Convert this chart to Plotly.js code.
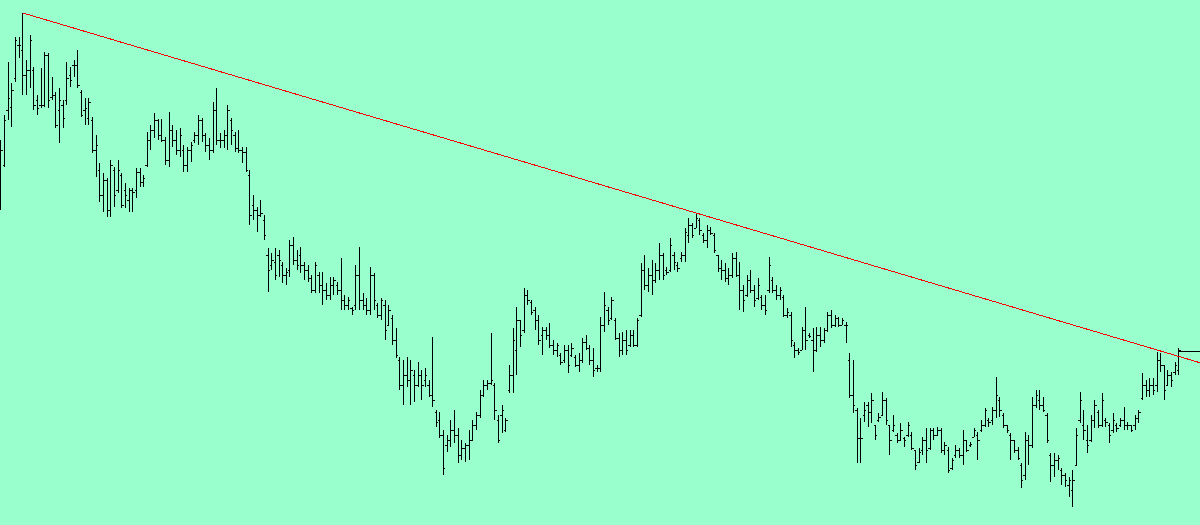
<!DOCTYPE html>
<html>
<head>
<meta charset="utf-8">
<script src="https://cdn.plot.ly/plotly-3.0.1.min.js"></script>
<style>html,body{margin:0;padding:0;background:#99ffcc;}#chart{width:1200px;height:525px;}#chart path{shape-rendering:crispEdges;}</style>
</head>
<body>
<div id="chart"></div>
<script>
// Price levels (arbitrary units, higher = up)
const highs = [385,410,463,442,488,488,512,465,490,458,
430,457,473,472,448,433,437,425,463,458,
465,475,435,427,427,408,390,362,352,347,
365,358,365,352,342,337,337,357,357,350,
393,400,412,406,406,388,413,400,395,397,
380,378,383,393,410,407,392,387,423,437,
392,395,420,407,393,395,378,378,355,330,
318,325,310,277,272,277,275,263,257,285,
288,275,278,263,260,250,263,253,253,242,
248,248,243,267,230,228,218,260,278,232,
227,258,252,222,227,225,220,210,197,168,
165,168,165,155,163,155,157,145,188,115,
113,95,90,105,115,97,85,82,95,105,
113,135,145,145,192,142,110,120,107,160,
197,218,205,237,235,225,218,210,198,198,
202,185,182,172,180,180,182,170,172,187,
190,180,177,160,208,233,218,228,207,192,
193,195,195,195,207,262,270,257,265,262,
282,272,258,287,273,263,273,297,307,302,
312,307,292,300,298,292,270,265,262,257,
272,273,263,240,250,255,240,247,230,230,
268,248,240,238,230,217,213,183,177,198,
218,192,197,198,198,197,213,215,210,208,
207,203,172,165,117,107,123,123,132,100,
112,133,127,100,110,92,102,88,103,93,
75,77,88,97,97,97,98,97,83,78,
67,80,77,95,85,83,97,93,105,117,
107,118,148,128,112,100,92,85,78,62,
93,90,128,135,135,128,112,72,72,70,
57,52,48,55,97,133,115,100,110,125,
115,132,107,102,112,102,107,118,103,100,
110,115,152,145,147,147,173,172,160,155,
153,163,177];
const lows = [315,358,405,398,443,467,430,430,437,415,
410,417,418,417,425,397,382,397,420,438,
448,437,408,400,400,372,348,323,313,308,
308,318,332,317,317,313,313,327,338,338,
358,375,387,385,383,360,358,378,370,368,
353,353,363,382,380,383,373,365,372,380,
377,377,375,380,373,372,362,353,300,305,
293,308,285,233,255,245,248,242,240,248,
260,255,252,245,243,232,232,232,220,225,
225,230,230,215,215,215,210,215,215,215,
210,210,215,207,205,185,200,180,167,135,
120,138,120,123,138,125,138,128,118,98,
87,50,73,78,82,62,65,63,65,85,
95,107,128,135,140,105,82,92,93,132,
132,150,178,192,220,210,195,180,170,185,
177,170,168,160,162,152,168,158,153,162,
175,160,148,153,153,193,200,205,185,168,
170,170,178,178,178,208,235,233,230,242,
245,245,250,253,255,253,263,263,282,287,
297,290,282,277,290,272,253,245,243,240,
247,248,215,213,228,232,218,225,215,210,
232,232,225,225,208,207,178,167,170,175,
175,187,153,173,178,182,193,197,198,198,
200,182,127,112,62,62,103,98,102,85,
103,110,100,70,93,82,85,78,88,75,
55,62,70,62,75,85,90,72,70,52,
55,67,67,60,73,78,88,65,93,98,
98,100,107,108,97,92,65,72,65,37,
45,60,77,117,115,113,82,43,48,55,
40,38,28,18,60,102,85,72,83,97,
97,98,98,82,92,93,98,95,95,93,
95,102,125,128,128,130,133,153,125,140,
138,150,150];
const opens = [330,360,415,418,447,480,475,450,455,455,
425,420,420,470,428,430,415,420,425,450,
460,460,433,415,407,405,375,355,330,345,
315,355,335,350,335,325,335,335,353,343,
360,385,395,405,390,385,365,395,385,375,
375,360,375,385,390,405,390,380,375,415,
385,385,390,405,390,377,375,373,350,320,
315,310,305,270,260,263,270,260,250,255,
280,265,270,260,255,247,235,250,240,235,
230,240,240,235,225,220,217,220,250,225,
220,215,250,220,210,220,200,207,185,165,
140,150,145,150,140,150,145,140,130,113,
105,90,80,85,95,90,70,77,80,85,
100,110,130,140,142,140,105,110,95,135,
150,175,205,195,230,223,215,205,190,195,
190,180,175,170,165,175,170,168,160,165,
183,177,165,157,157,200,215,207,205,187,
175,185,180,190,180,210,255,240,250,245,
255,270,255,255,270,260,267,270,290,300,
297,305,290,285,295,290,270,257,255,247,
250,267,250,235,230,245,235,227,228,220,
235,245,235,230,228,210,210,180,175,175,
195,190,185,175,190,185,195,210,200,207,
200,200,165,130,115,87,110,120,113,100,
105,110,125,100,95,90,85,87,90,90,
75,63,75,85,77,95,90,95,75,75,
57,70,75,70,85,80,88,90,95,100,
105,105,115,125,110,100,90,85,75,60,
50,85,80,120,125,120,110,70,60,65,
55,50,40,35,60,105,100,85,85,105,
113,100,105,100,95,100,100,105,100,100,
100,107,127,140,135,140,140,165,160,140,
150,153,155];
const closes = [375,405,427,435,485,480,450,455,485,420,
417,420,470,425,430,400,425,407,447,445,
460,440,410,417,423,375,380,330,345,315,
360,330,355,320,330,335,333,353,343,347,
385,395,405,390,385,365,395,385,375,390,
360,375,380,390,405,390,380,375,415,385,
385,390,415,395,377,375,373,355,310,315,
310,312,290,255,265,250,265,250,253,280,
265,260,260,255,247,235,260,240,235,230,
240,245,235,225,220,225,215,250,225,220,
215,250,225,210,225,195,215,185,170,140,
150,145,155,140,150,140,150,130,125,103,
90,57,85,95,90,70,77,80,85,100,
110,130,140,142,145,115,85,115,105,150,
185,205,190,230,225,213,205,185,195,190,
180,175,180,163,175,160,177,160,165,183,
177,165,155,157,200,220,205,225,187,175,
185,175,190,180,205,255,240,250,245,255,
270,250,253,280,263,257,270,293,300,290,
307,295,285,295,292,275,257,255,247,250,
267,250,235,225,245,235,225,240,220,215,
260,235,230,235,210,213,185,175,173,195,
185,189,175,190,185,195,210,200,207,200,
205,200,130,120,87,87,115,113,125,90,
108,125,105,85,100,85,95,85,100,77,
60,73,85,75,95,90,95,75,80,55,
65,75,70,85,75,81,95,85,100,115,
103,115,130,115,100,95,85,75,67,45,
85,80,120,130,120,115,85,60,65,67,
50,45,45,45,90,125,95,80,105,120,
100,125,103,90,105,97,105,100,100,95,
107,113,140,135,140,135,165,160,135,150,
145,160,175];

// Trend line anchors: bar index and level of the two highs it joins
const trendIdx = [6, 190];
const trendLevel = [512, 312];

const n = highs.length;
const bars = Array.from({length: n}, (_, i) => i);
const xMin = -0.27, xMax = (n - 1) + 5.75;

const slope = (trendLevel[1] - trendLevel[0]) / (trendIdx[1] - trendIdx[0]);
const trendX = [trendIdx[0], xMax];
const trendY = [trendLevel[0], trendLevel[0] + slope * (xMax - trendIdx[0])];

const lastClose = closes[n - 1] - 1;

const data = [
  {
    type: 'ohlc',
    x: bars, open: opens, high: highs, low: lows, close: closes,
    increasing: {line: {color: '#000000', width: 1}},
    decreasing: {line: {color: '#000000', width: 1}},
    tickwidth: 0.5,
    hoverinfo: 'skip'
  },
  {
    type: 'scatter', mode: 'lines',
    x: [n - 1, xMax], y: [lastClose, lastClose],
    line: {color: '#000000', width: 1}, hoverinfo: 'skip'
  },
  {
    type: 'scatter', mode: 'lines',
    x: trendX, y: trendY,
    line: {color: '#ff0000', width: 1}, hoverinfo: 'skip'
  }
];

const layout = {
  width: 1200, height: 525,
  margin: {l: 0, r: 0, t: 0, b: 0, pad: 0},
  paper_bgcolor: '#99ffcc', plot_bgcolor: '#99ffcc',
  showlegend: false, hovermode: false,
  xaxis: {range: [xMin, xMax], visible: false, showgrid: false, zeroline: false, rangeslider: {visible: false}, fixedrange: true},
  yaxis: {range: [0, 525], visible: false, showgrid: false, zeroline: false, fixedrange: true}
};

Plotly.newPlot('chart', data, layout, {displayModeBar: false, staticPlot: true});
</script>
</body>
</html>
